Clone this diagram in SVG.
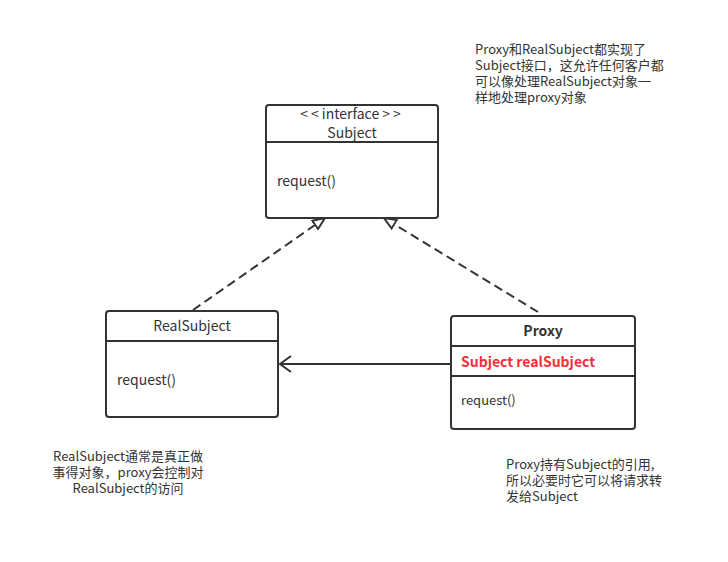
<svg xmlns="http://www.w3.org/2000/svg" width="728" height="562" viewBox="0 0 728 562">
<style>
.box{fill:#fff;stroke:#333;stroke-width:2}
.div{stroke:#333;stroke-width:2}
.t{font-family:"Noto Sans CJK SC","Open Sans",sans-serif;font-size:14px;fill:#333}
.n{font-family:"Noto Sans CJK SC","Open Sans",sans-serif;font-size:13px;fill:#333}
.c{stroke:#333;stroke-width:2;fill:none}
</style>
<defs>
<marker id="tri" viewBox="0 0 14 12" refX="13" refY="6" markerWidth="14" markerHeight="12" markerUnits="userSpaceOnUse" orient="auto">
<path d="M1,1 L13,6 L1,11 Z" fill="#fff" stroke="#333" stroke-width="2"/>
</marker>
<marker id="open" viewBox="0 0 14 18" refX="12" refY="9" markerWidth="14" markerHeight="18" markerUnits="userSpaceOnUse" orient="auto">
<path d="M1,1 L12,9 L1,17" fill="none" stroke="#333" stroke-width="2"/>
</marker>
</defs>
<rect width="728" height="562" fill="#fff"/>
<g id="connectors">
<line class="c" x1="193" y1="310" x2="325" y2="218" stroke-dasharray="9,5" marker-end="url(#tri)"/>
<line class="c" x1="538" y1="312" x2="384" y2="218" stroke-dasharray="9,5" marker-end="url(#tri)"/>
<line class="c" x1="451" y1="364" x2="280" y2="364" marker-end="url(#open)"/>
</g>
<g id="subject">
<rect class="box" x="266" y="105" width="172" height="113" rx="3"/>
<line class="div" x1="266" y1="142" x2="438" y2="142"/>
<text class="t" x="352" y="119" text-anchor="middle"><tspan letter-spacing="3">&lt;&lt;</tspan>interface<tspan dx="3" letter-spacing="3">&gt;&gt;</tspan></text>
<text class="t" x="352" y="138" text-anchor="middle">Subject</text>
<text class="t" x="277" y="186">request()</text>
</g>
<g id="realsubject">
<rect class="box" x="106" y="311" width="172" height="106" rx="3"/>
<line class="div" x1="106" y1="341" x2="278" y2="341"/>
<text class="t" x="192" y="331" text-anchor="middle">RealSubject</text>
<text class="t" x="117" y="385">request()</text>
</g>
<g id="proxy">
<rect class="box" x="451" y="316" width="184" height="113" rx="3"/>
<line class="div" x1="451" y1="346" x2="635" y2="346"/>
<line class="div" x1="451" y1="376" x2="635" y2="376"/>
<text class="t" x="543" y="336" text-anchor="middle" font-weight="bold">Proxy</text>
<text class="t" x="461" y="367" font-weight="bold" style="fill:#f0303a">Subject realSubject</text>
<text class="n" x="461" y="405">request()</text>
</g>
<g id="note1">
<text class="n"><tspan x="475" y="54">Proxy和RealSubject都实现了</tspan><tspan x="475" y="70">Subject接口，这允许任何客户都</tspan><tspan x="475" y="86">可以像处理RealSubject对象一</tspan><tspan x="475" y="102">样地处理proxy对象</tspan></text>
</g>
<g id="note2">
<text class="n" text-anchor="middle"><tspan x="128" y="461">RealSubject通常是真正做</tspan><tspan x="128" y="477">事得对象，proxy会控制对</tspan><tspan x="128" y="493">RealSubject的访问</tspan></text>
</g>
<g id="note3">
<text class="n"><tspan x="506" y="469">Proxy持有Subject的引用,</tspan><tspan x="506" y="485">所以必要时它可以将请求转</tspan><tspan x="506" y="501">发给Subject</tspan></text>
</g>
</svg>
